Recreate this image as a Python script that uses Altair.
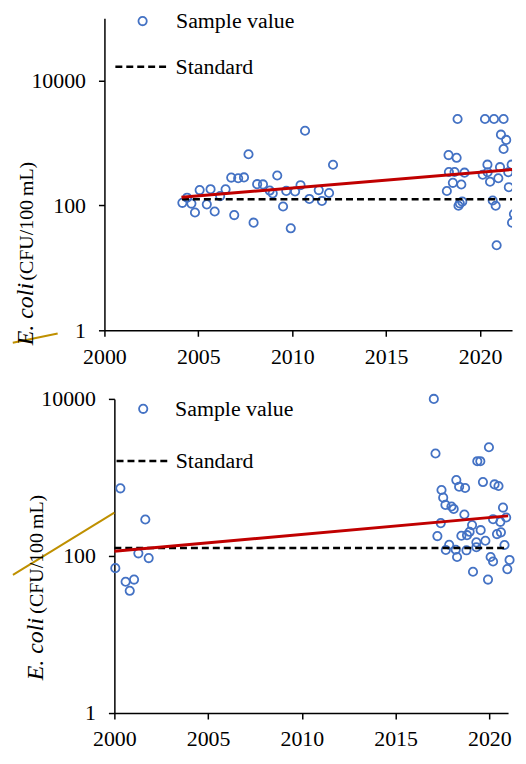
import altair as alt
import pandas as pd

FONT = "Liberation Serif"
BLUE = "#4472C4"
RED = "#C00000"
GOLD = "#BF9000"

# ---------------- top panel data ----------------
top_years = [2004.15, 2004.40, 2004.63, 2004.82, 2005.07, 2005.45, 2005.65, 2005.87,
             2006.16, 2006.45, 2006.75, 2006.91, 2007.12, 2007.43, 2007.67, 2007.94,
             2008.13, 2008.44, 2008.80, 2008.96, 2009.20, 2009.51, 2009.68, 2009.92,
             2010.15, 2010.44, 2010.68, 2010.91, 2011.41, 2011.58, 2011.96, 2012.17,
             2018.23, 2018.32, 2018.34, 2018.55, 2018.64, 2018.75, 2018.80, 2018.85,
             2018.92, 2019.00, 2019.05, 2019.17,
             2020.26, 2020.74, 2021.25, 2021.11, 2021.39, 2021.25, 2020.39, 2021.06,
             2021.68, 2020.14, 2020.40, 2020.97, 2021.50, 2020.53, 2021.53, 2020.67,
             2020.83, 2021.80, 2021.70, 2020.88]
top_vals = [110, 133, 107, 77, 176, 104, 182, 80,
            141, 181, 279, 70, 272, 281, 660, 53,
            219, 217, 173, 156, 302, 96, 171, 43,
            167, 211, 1570, 127, 176, 118, 158, 449,
            170, 640, 343, 230, 343, 579, 2420, 99,
            108, 216, 115, 335,
            2420, 2420, 2420, 1360, 1120, 800, 450, 410,
            450, 310, 340, 272, 340, 240, 196, 120,
            99, 73, 53, 23]
top_trend_x = [2004.1, 2021.7]
top_trend_y = [135, 376]
top_std_x = [2004.13, 2021.7]
top_conn_x = [1995.12, 1997.51]
top_conn_y = [0.63, 0.886]

# ---------------- bottom panel data ----------------
bot_years = [2000.05, 2000.32, 2000.60, 2000.82, 2001.05, 2001.28, 2001.65, 2001.83,
             2017.04, 2017.13, 2019.98, 2019.36, 2019.52, 2018.24, 2018.39, 2018.71,
             2019.66, 2020.28, 2020.49, 2017.45, 2017.54, 2017.66, 2017.98, 2018.10,
             2018.67, 2020.73, 2020.20, 2020.90, 2020.59, 2017.41, 2017.23, 2018.51,
             2019.08, 2018.95, 2019.54, 2018.81, 2020.41, 2020.62, 2019.31, 2019.79,
             2017.86, 2018.21, 2017.68, 2018.28, 2018.78, 2019.31, 2020.81, 2020.07,
             2020.20, 2021.08, 2020.96, 2019.13, 2019.93]
bot_vals = [70, 726, 47, 36, 50, 108, 291, 94,
            10000, 2014, 2420, 1610, 1610, 925, 762, 733,
            873, 815, 777, 691, 553, 447, 426, 397,
            337, 413, 294, 309, 272, 262, 179, 181,
            247, 203, 213, 184, 190, 200, 149, 156,
            139, 120, 119, 97, 118, 129, 138, 97,
            85, 89, 68, 63, 50]
bot_trend_x = [2000.0, 2021.0]
bot_trend_y = [115, 324]
bot_std_x = [2000.0, 2021.0]
bot_conn_x = [1994.59, 2000.0]
bot_conn_y = [57.6, 357]

STANDARD = 126
x_ticks = [2000, 2005, 2010, 2015, 2020]
y_ticks = [1, 100, 10000]


def panel(years, vals, tx, ty, sx, cx, cy, xdom, ydom, w, h, leg, ttl, clip_pts):
    xs = alt.Scale(domain=xdom, nice=False, zero=False)
    ys = alt.Scale(type="log", domain=ydom, nice=False)
    common = dict(domainColor="black", domainWidth=1.5, tickColor="black", tickWidth=1.5,
                  tickSize=6, labelFont=FONT, labelFontSize=22, labelColor="black",
                  grid=False, title=None, labelFlush=False, labelOverlap=False)
    xax = alt.Axis(values=x_ticks, format="d", labelPadding=10, **common)
    yax = alt.Axis(values=y_ticks, format="d", labelPadding=13, **common)

    def X(f):
        return alt.X(f, type="quantitative", scale=xs, axis=xax)

    def Y(f):
        return alt.Y(f, type="quantitative", scale=ys, axis=yax)

    pts = pd.DataFrame({"year": years, "ecoli": vals, "s": ["Sample value"] * len(years)})
    points = alt.Chart(pts).mark_point(filled=False, size=70, strokeWidth=1.8,
                                       color=BLUE, opacity=1, clip=clip_pts).encode(
        x=X("year"), y=Y("ecoli"),
        shape=alt.Shape("s:N", scale=alt.Scale(domain=["Sample value"], range=["circle"]),
                        legend=alt.Legend(orient="none", legendX=leg[0], legendY=leg[1],
                                          title=None, labelFont=FONT, labelFontSize=22,
                                          labelColor="black", symbolSize=70,
                                          symbolStrokeWidth=1.8, symbolStrokeColor=BLUE,
                                          symbolFillColor="transparent",
                                          labelOffset=leg[2], padding=0)))

    std = pd.DataFrame({"x": [sx[0]], "x2": [sx[1]], "y": [STANDARD], "k": ["Standard"]})
    rule = alt.Chart(std).mark_rule(color="black", strokeWidth=2.5).encode(
        x=X("x"), x2="x2", y=Y("y"),
        strokeDash=alt.StrokeDash("k:N", scale=alt.Scale(domain=["Standard"], range=[[7, 4]]),
                                  legend=alt.Legend(orient="none", legendX=leg[3], legendY=leg[4],
                                                    title=None, labelFont=FONT, labelFontSize=22,
                                                    labelColor="black", symbolType="stroke",
                                                    symbolSize=leg[6] ** 2, symbolStrokeWidth=2.5,
                                                    symbolStrokeColor="black",
                                                    labelOffset=leg[5], padding=0)))

    trend = alt.Chart(pd.DataFrame({"year": tx, "ecoli": ty})).mark_line(
        color=RED, strokeWidth=3).encode(x=X("year"), y=Y("ecoli"))

    conn = alt.Chart(pd.DataFrame({"year": cx, "ecoli": cy})).mark_line(
        color=GOLD, strokeWidth=2, clip=False).encode(x=X("year"), y=Y("ecoli"))

    one = pd.DataFrame({"a": [0]})
    t1 = alt.Chart(one).mark_text(text="E. coli", font=FONT, fontSize=24, fontStyle="italic",
                                  angle=270, align="left", baseline="alphabetic",
                                  color="black").encode(x=alt.value(ttl[0]), y=alt.value(ttl[1]))
    t2 = alt.Chart(one).mark_text(text="(CFU/100\u2009mL)", font=FONT, fontSize=20,
                                  angle=270, align="left", baseline="alphabetic",
                                  color="black").encode(x=alt.value(ttl[0]), y=alt.value(ttl[2]))

    return alt.layer(points, rule, trend, conn, t1, t2).properties(width=w, height=h)


top = panel(top_years, top_vals, top_trend_x, top_trend_y, top_std_x, top_conn_x, top_conn_y,
            [2000, 2021.7], [1, 100000], 410, 314,
            (27.4, -8, 22.6, 9.5, 21, 6, 53), (-72, 329, 264), True)
bottom = panel(bot_years, bot_vals, bot_trend_x, bot_trend_y, bot_std_x, bot_conn_x, bot_conn_y,
               [2000, 2021], [1, 10000], 396, 316,
               (28, -1, 21, 10.7, 34, 4, 54), (-72, 283, 216), False)

# an empty, invisible cell that shifts the lower panel 10 px to the right
spacer = alt.Chart(pd.DataFrame({"a": [0]})).mark_point(opacity=0).encode(
    x=alt.value(0), y=alt.value(0)).properties(width=1, height=1)

lower = alt.hconcat(spacer, bottom, spacing=9, bounds="flush")

chart = alt.vconcat(top, lower, spacing=69, bounds="flush").resolve_scale(
    x="independent", y="independent", shape="independent", strokeDash="independent"
).resolve_legend(shape="independent", strokeDash="independent").properties(
    padding={"left": 0, "top": 0, "right": 0, "bottom": 0}
).configure_view(stroke=None).configure_axis(
    labelFont=FONT, labelFontSize=22, labelColor="black"
).configure_legend(labelFont=FONT)

chart.save("out.html", embed_options={"renderer": "svg", "actions": False})
